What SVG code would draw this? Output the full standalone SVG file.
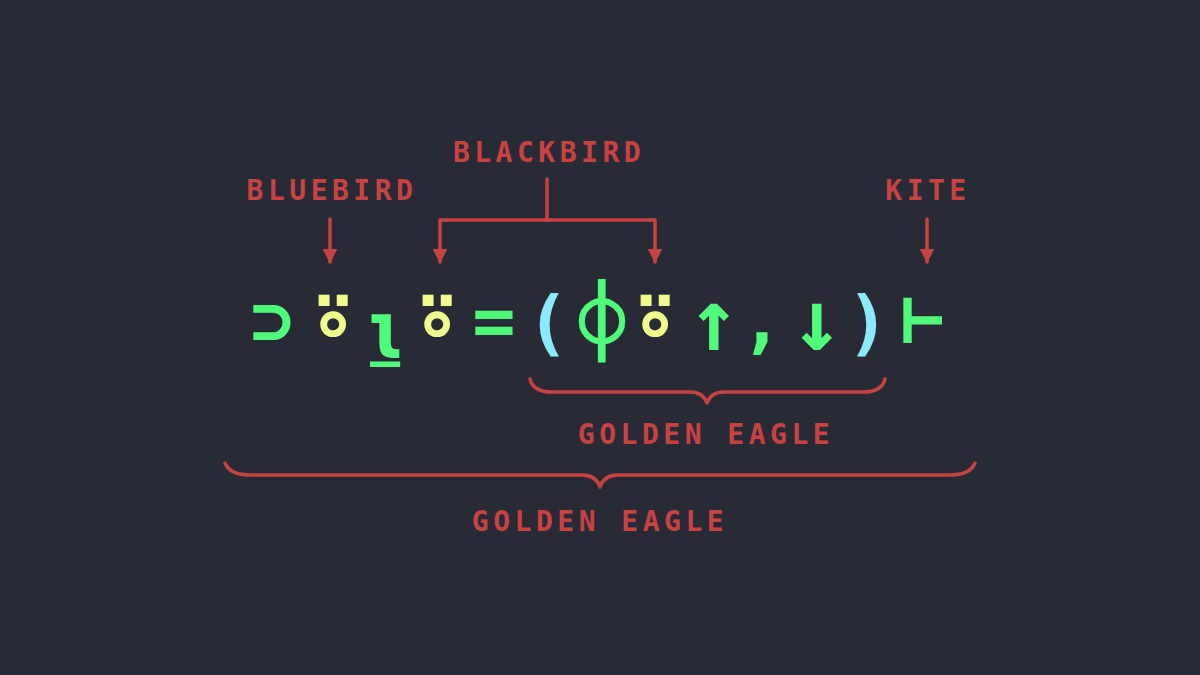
<svg xmlns="http://www.w3.org/2000/svg" width="1200" height="675" viewBox="0 0 1200 675">
<style>
.bg{fill:#282a36}
.lbl{font-family:"DejaVu Sans Mono","Liberation Mono",monospace;font-weight:bold;font-size:28px;letter-spacing:4.5px;fill:#c94243;text-anchor:middle}
.g{font-family:"DejaVu Sans Mono","Liberation Mono",monospace;font-weight:bold;font-size:72px;text-anchor:middle}
.big{font-size:94px}
.arr{font-size:86px}
.fn{fill:#50fa7b}
.op{fill:#f1fa8c}
.par{fill:#8be9fd}
.ln{fill:none;stroke:#c94243;stroke-width:3.5;stroke-linecap:round;stroke-linejoin:round}
</style>
<defs>
<marker id="ah" viewBox="0 0 10 10" refX="9" refY="5" markerWidth="4.2" markerHeight="4.2" orient="auto" markerUnits="strokeWidth">
<path d="M0,0 L10,5 L0,10 z" fill="#c94243"/>
</marker>
</defs>
<rect class="bg" width="1200" height="675"/>
<g id="expression">
<g id="g-first"><text class="g fn" x="272" y="345">⊃</text></g>
<g id="g-atop1"><text class="g op big" x="333" y="358">⍤</text></g>
<g id="g-where"><text class="g fn" x="385" y="358" style="font-size:80px">⍸</text></g>
<g id="g-atop2"><text class="g op big" x="437" y="358">⍤</text></g>
<g id="g-eq"><text class="g fn" x="494" y="345">=</text></g>
<g id="g-lpar"><text class="g par" x="548" y="347">(</text></g>
<g id="g-rotate"><text class="g fn" x="602" y="349" style="font-size:78px">⌽</text></g>
<g id="g-atop3"><text class="g op big" x="655" y="358">⍤</text></g>
<g id="g-take"><text class="g fn arr" x="714" y="350">↑</text></g>
<g id="g-cat"><text class="g fn" x="762" y="345">,</text></g>
<g id="g-drop"><text class="g fn arr" x="817" y="350">↓</text></g>
<g id="g-rpar"><text class="g par" x="868" y="347">)</text></g>
<g id="g-right"><text class="g fn" x="923" y="343">⊢</text></g>
</g>
<g id="labels">
<g id="bluebird"><text class="lbl" x="332" y="200">BLUEBIRD</text></g>
<g id="blackbird"><text class="lbl" x="549" y="162">BLACKBIRD</text></g>
<g id="kite"><text class="lbl" x="928" y="200">KITE</text></g>
<g id="golden-eagle-1"><text class="lbl" x="706" y="444">GOLDEN EAGLE</text></g>
<g id="golden-eagle-2"><text class="lbl" x="600" y="531">GOLDEN EAGLE</text></g>
</g>
<g id="connectors">
<path class="ln" d="M330,219 V262" marker-end="url(#ah)"/>
<path class="ln" d="M547,179 V220"/>
<path class="ln" d="M547,220 H440 V262" marker-end="url(#ah)"/>
<path class="ln" d="M547,220 H655 V262" marker-end="url(#ah)"/>
<path class="ln" d="M927,219 V262" marker-end="url(#ah)"/>
<path class="ln" d="M530,379 Q533,392 552,392 L690,392 Q703,392 707,403 Q711,392 724,392 L863,392 Q882,392 885,379"/>
<path class="ln" d="M225,463 Q230,475 250,475 L582,475 Q596,475 600,487 Q604,475 618,475 L950,475 Q970,475 975,463"/>
</g>
</svg>
